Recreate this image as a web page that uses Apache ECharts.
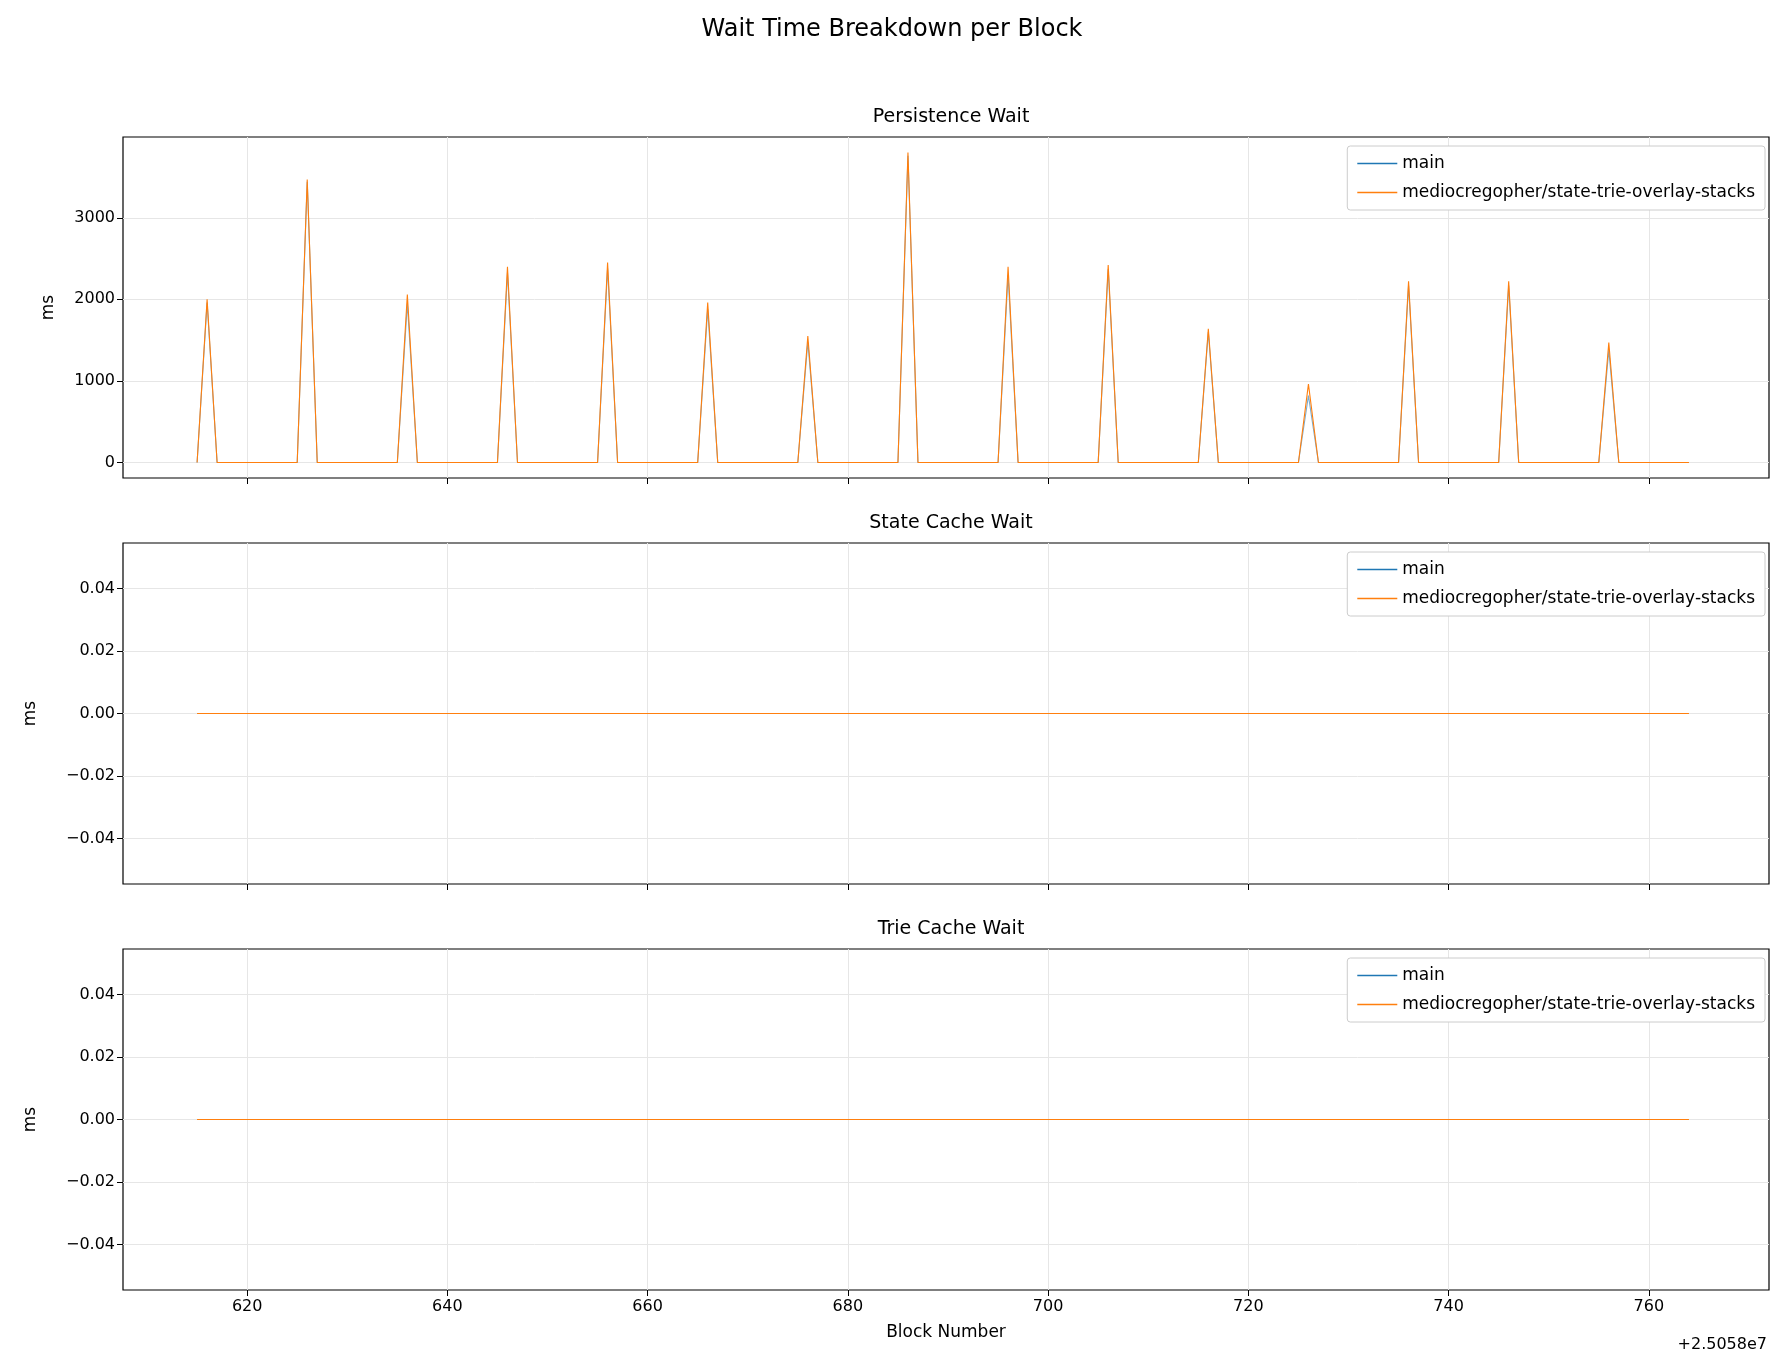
<!DOCTYPE html><html><head><meta charset="utf-8"><script src="https://cdn.jsdelivr.net/npm/echarts@6/dist/echarts.min.js"></script>
<style>html,body{margin:0;background:#fff}#c{width:1784px;height:1369px}</style></head><body><div id="c"></div><script>
const blocks=[];for(let b=615;b<=764;b++)blocks.push(b);
const peakBlocks=[616,626,636,646,656,666,676,686,696,706,716,726,736,746,756];
const peaksBranch=[2000,3470,2060,2400,2450,1960,1550,3800,2400,2420,1640,960,2220,2220,1470];
const peaksMain=[1960,3440,1950,2330,2380,1880,1480,3760,2300,2370,1600,820,2170,2170,1380];
const stateMain=blocks.map(()=>0), stateBranch=blocks.map(()=>0);
const trieMain=blocks.map(()=>0), trieBranch=blocks.map(()=>0);
const xTicks=[620,640,660,680,700,720,740,760];
const yTop=[0,1000,2000,3000], ySmall=[-0.04,-0.02,0,0.02,0.04];
function ser(peaks){return blocks.map(b=>{const i=peakBlocks.indexOf(b);return [b,i>=0?peaks[i]:0];});}
function zero(a){return blocks.map((b,i)=>[b,a[i]]);}
const F='DejaVu Sans';
const tops=[137,543,949],H=341;
const grids=tops.map(t=>({left:123,width:1646,top:t,height:H,show:true,borderColor:'#000',borderWidth:1.2}));
const xAxes=tops.map((t,i)=>({type:'value',gridIndex:i,min:607.6,max:772,position:'bottom',
 axisLine:{show:false,onZero:false},splitLine:{show:true,lineStyle:{color:'#e6e6e6'},customValues:xTicks},
 axisTick:{show:true,inside:false,customValues:xTicks,length:6,lineStyle:{color:'#000'}},
 axisLabel:{show:i==2,customValues:xTicks,color:'#000',fontFamily:F,fontSize:16,margin:9},
 name:i==2?'Block Number':'',nameLocation:'middle',nameGap:34,nameTextStyle:{color:'#000',fontFamily:F,fontSize:17}}));
function yAx(i,min,max,vals,fmt){return {type:'value',gridIndex:i,min,max,position:'left',
 axisLine:{show:false,onZero:false},splitLine:{show:true,lineStyle:{color:'#e6e6e6'},customValues:vals},
 axisTick:{show:true,inside:false,customValues:vals,length:6,lineStyle:{color:'#000'}},
 axisLabel:{customValues:vals,color:'#000',fontFamily:F,fontSize:16,formatter:fmt},
 name:'ms',nameLocation:'middle',nameGap:i==0?66:84,nameTextStyle:{color:'#000',fontFamily:F,fontSize:17}};}
const fmtS=v=>(v<0?'\u2212':'')+Math.abs(v).toFixed(2);
const yAxes=[yAx(0,-190,3990,yTop,v=>String(v)),yAx(1,-0.0545,0.0545,ySmall,fmtS),yAx(2,-0.0545,0.0545,ySmall,fmtS)];
function line(name,data,i,color,op){return {type:'line',name,data,xAxisIndex:i,yAxisIndex:i,showSymbol:false,symbol:'none',lineStyle:{color,width:1.1,opacity:op},itemStyle:{color},z:name=='main'?2:3,animation:false};}
const series=[line('main',ser(peaksMain),0,'#1f77b4',0.6),line('mediocregopher/state-trie-overlay-stacks',ser(peaksBranch),0,'#ff7f0e',1),
line('main',zero(stateMain),1,'#1f77b4',0.6),line('mediocregopher/state-trie-overlay-stacks',zero(stateBranch),1,'#ff7f0e',1),
line('main',zero(trieMain),2,'#1f77b4',0.6),line('mediocregopher/state-trie-overlay-stacks',zero(trieBranch),2,'#ff7f0e',1)];
const legends=tops.map(t=>({top:t+9,right:19,orient:'vertical',backgroundColor:'#fff',borderColor:'#ccc',borderWidth:1,borderRadius:3,padding:[9,10,9,10],itemGap:12,
 icon:'rect',itemWidth:40,itemHeight:1.5,textStyle:{fontFamily:F,fontSize:17,color:'#000'},data:['main','mediocregopher/state-trie-overlay-stacks'],selectedMode:false}));
const titles=[{text:'Wait Time Breakdown per Block',left:'center',top:13,textStyle:{fontFamily:F,fontSize:24,fontWeight:'normal',color:'#000'}}];
['Persistence Wait','State Cache Wait','Trie Cache Wait'].forEach((s,i)=>titles.push({text:s,left:946,textAlign:'center',top:tops[i]-34,textStyle:{fontFamily:F,fontSize:19,fontWeight:'normal',color:'#000'}}));
titles.push({text:'+2.5058e7',right:12,top:1332,textStyle:{fontFamily:F,fontSize:16,fontWeight:'normal',color:'#000'}});
echarts.init(document.getElementById('c')).setOption({animation:false,title:titles,grid:grids,xAxis:xAxes,yAxis:yAxes,series,legend:legends});
</script></body></html>
